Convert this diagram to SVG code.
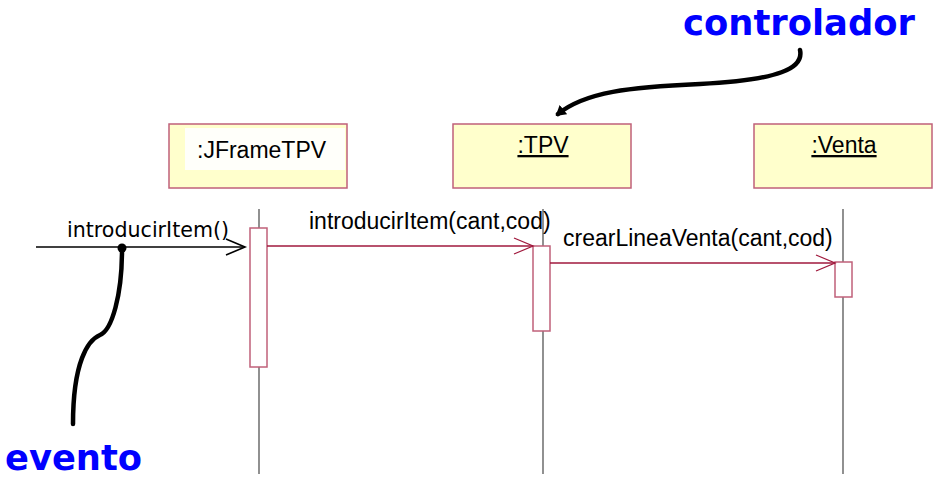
<svg xmlns="http://www.w3.org/2000/svg" width="937" height="486" viewBox="0 0 937 486">
<style>
.box{fill:#ffffcc;stroke:#c0607a;stroke-width:1.5}
.lbl{font-family:"Liberation Sans",Arial,sans-serif;font-size:23px;fill:#000}
.life{stroke:#555;stroke-width:1.3;fill:none}
.act{fill:#fff;stroke:#c0607a;stroke-width:1.5}
.msg{stroke:#a0183c;stroke-width:1.3;fill:none}
.note{font-family:"DejaVu Sans",Tahoma,sans-serif;font-weight:bold;font-size:36px;fill:#0000ff}
.curve{stroke:#000;stroke-width:4.5;fill:none;stroke-linecap:round}
</style>
<defs>
<marker id="open" markerWidth="24" markerHeight="20" refX="20" refY="9" orient="auto" markerUnits="userSpaceOnUse">
<path d="M1,1 L20,9 L1,17" fill="none" stroke="#a0183c" stroke-width="1.3"/>
</marker>
<marker id="openb" markerWidth="24" markerHeight="20" refX="20" refY="9" orient="auto" markerUnits="userSpaceOnUse">
<path d="M1,1 L20,9 L1,17" fill="none" stroke="#000" stroke-width="1.6"/>
</marker>
<marker id="solid" markerWidth="14" markerHeight="14" refX="7" refY="7" orient="auto" markerUnits="userSpaceOnUse">
<path d="M0,1 L10,7 L0,13 Z" fill="#000"/>
</marker>
</defs>
<rect width="937" height="486" fill="#fff"/>

<g id="lifelines">
<line class="life" x1="259" y1="209" x2="259" y2="474"/>
<line class="life" x1="543" y1="209" x2="543" y2="474"/>
<line class="life" x1="843" y1="209" x2="843" y2="474"/>
</g>

<g id="node-jframe">
<rect class="box" x="169" y="124" width="178" height="64"/>
<rect x="185" y="128" width="160" height="42" fill="#fff" opacity="0.9"/>
<text class="lbl" x="197" y="158">:JFrameTPV</text>
</g>

<g id="node-tpv">
<rect class="box" x="453" y="124" width="178" height="64"/>
<text class="lbl" x="543" y="153" text-anchor="middle" text-decoration="underline">:TPV</text>
</g>

<g id="node-venta">
<rect class="box" x="754" y="124" width="178" height="64"/>
<text class="lbl" x="844" y="153" text-anchor="middle" text-decoration="underline">:Venta</text>
</g>

<g id="activations">
<rect class="act" x="250" y="228" width="17" height="139"/>
<rect class="act" x="533" y="246" width="17" height="85"/>
<rect class="act" x="835" y="262" width="17" height="35"/>
</g>

<g id="connectors">
<line x1="36" y1="247" x2="245" y2="247" stroke="#000" stroke-width="1.6" marker-end="url(#openb)"/>
<line class="msg" x1="267" y1="246" x2="533" y2="246" marker-end="url(#open)"/>
<line class="msg" x1="550" y1="263" x2="835" y2="263" marker-end="url(#open)"/>
<circle cx="122" cy="248" r="4.5" fill="#000"/>
<path class="curve" d="M122,250 C122,295 112,330 100,335 C88,340 73,362 73,424"/>
<path class="curve" d="M800,50 C804,68 780,80 700,84 C630,87 585,92 558,114" marker-end="url(#solid)"/>
</g>

<g id="labels">
<text x="67" y="237" font-family="DejaVu Sans,Tahoma,sans-serif" font-size="20.5" textLength="162" lengthAdjust="spacingAndGlyphs">introducirItem()</text>
<text class="lbl" x="309" y="229">introducirItem(cant,cod)</text>
<text class="lbl" x="563" y="246">crearLineaVenta(cant,cod)</text>
<text class="note" x="683" y="35" textLength="232" lengthAdjust="spacingAndGlyphs">controlador</text>
<text class="note" x="5" y="470" textLength="137" lengthAdjust="spacingAndGlyphs">evento</text>
</g>
</svg>
